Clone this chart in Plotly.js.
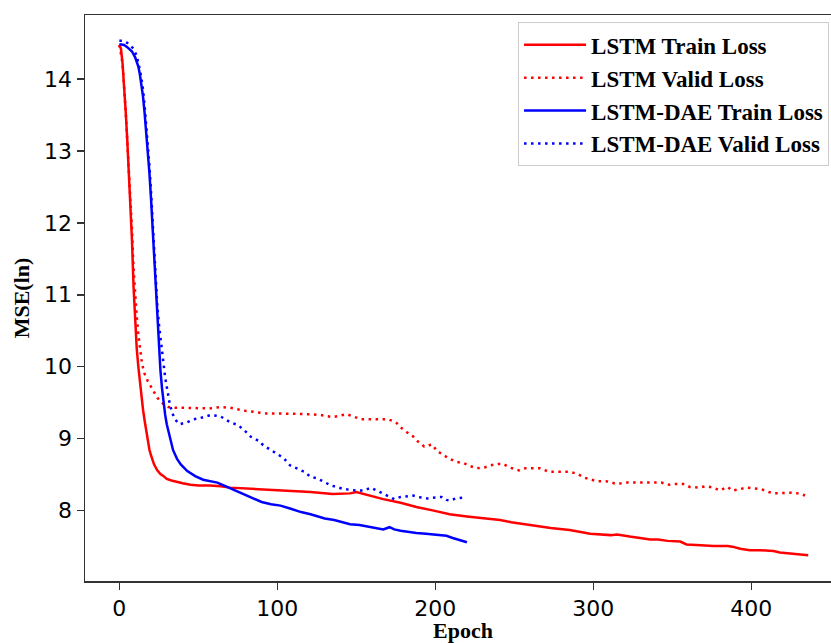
<!DOCTYPE html>
<html>
<head>
<meta charset="utf-8">
<script src="https://cdn.plot.ly/plotly-3.0.1.min.js"></script>
<style>
html,body{margin:0;padding:0;overflow:hidden;background:#fff;}
#chart{width:842px;height:643px;}
</style>
</head>
<body>
<div id="chart"></div>
<script>
// ---- Data ----
const seriesNames = ["LSTM Train Loss", "LSTM Valid Loss", "LSTM-DAE Train Loss", "LSTM-DAE Valid Loss"];

const lstmTrainEpoch = [0, 1, 2, 3, 4, 5, 6, 7, 8, 9, 10, 11, 12, 13, 14, 15, 16, 17, 18, 19, 20, 22, 24, 26, 28, 30, 33, 36, 40, 45, 50, 57, 64, 70, 80, 89, 100, 112, 121, 135, 146, 150, 157, 167, 178, 188, 199, 209, 220, 231, 241, 248, 260, 273, 285, 298, 311, 315, 323, 336, 341, 347, 355, 359, 368, 376, 385, 388, 393, 399, 406, 414, 418, 427, 436];
const lstmTrainLoss  = [14.47, 14.42, 14.22, 13.92, 13.55, 13.15, 12.72, 12.3, 11.75, 11.1, 10.55, 10.25, 10.0, 9.8, 9.55, 9.4, 9.25, 9.1, 8.95, 8.85, 8.77, 8.64, 8.56, 8.51, 8.48, 8.44, 8.42, 8.40, 8.38, 8.36, 8.35, 8.35, 8.34, 8.32, 8.31, 8.30, 8.29, 8.27, 8.26, 8.23, 8.24, 8.26, 8.22, 8.16, 8.11, 8.05, 8.00, 7.95, 7.92, 7.89, 7.87, 7.84, 7.80, 7.76, 7.73, 7.68, 7.66, 7.67, 7.64, 7.60, 7.60, 7.58, 7.57, 7.53, 7.52, 7.51, 7.51, 7.50, 7.47, 7.45, 7.45, 7.44, 7.42, 7.40, 7.38];

const lstmValidEpoch = [0, 2, 4, 6, 7, 8, 9, 10, 11, 12, 13, 14, 15, 16, 18, 20, 22, 24, 26, 28, 31, 34, 40, 49, 57, 64, 70, 79, 93, 102, 113, 121, 127, 135, 144, 148, 153, 161, 170, 175, 179, 182, 186, 189, 193, 196, 198, 201, 205, 209, 213, 218, 222, 226, 231, 235, 240, 243, 247, 253, 257, 266, 272, 280, 285, 290, 294, 302, 308, 315, 320, 330, 343, 348, 352, 357, 361, 367, 371, 376, 380, 385, 388, 393, 397, 406, 411, 415, 420, 425, 430, 434];
const lstmValidLoss  = [14.47, 14.22, 13.55, 12.75, 12.35, 11.9, 11.35, 10.95, 10.7, 10.45, 10.25, 10.1, 9.98, 9.9, 9.8, 9.72, 9.65, 9.57, 9.52, 9.48, 9.44, 9.43, 9.43, 9.42, 9.42, 9.44, 9.43, 9.39, 9.35, 9.35, 9.35, 9.34, 9.33, 9.30, 9.34, 9.31, 9.27, 9.27, 9.27, 9.23, 9.14, 9.09, 9.03, 8.96, 8.89, 8.91, 8.92, 8.83, 8.77, 8.72, 8.68, 8.66, 8.62, 8.59, 8.60, 8.63, 8.65, 8.65, 8.60, 8.56, 8.59, 8.59, 8.54, 8.54, 8.54, 8.51, 8.46, 8.41, 8.41, 8.37, 8.39, 8.39, 8.39, 8.36, 8.37, 8.37, 8.33, 8.32, 8.34, 8.32, 8.28, 8.33, 8.28, 8.30, 8.32, 8.30, 8.26, 8.24, 8.25, 8.25, 8.24, 8.21];

const daeTrainEpoch = [0, 3, 5, 8, 10, 12, 13, 14, 15, 16, 17, 18, 19, 20, 21, 22, 23, 24, 25, 26, 27, 28, 29, 30, 32, 34, 36.5, 39, 43, 48, 53, 58, 62, 66, 70, 75, 79, 85, 90, 96, 102, 108, 115, 121, 125, 130, 136, 141, 146, 152, 157, 162, 167, 171, 174, 178, 183, 188, 194, 199, 204, 207, 211, 214, 217, 220];
const daeTrainLoss  = [14.48, 14.47, 14.44, 14.38, 14.3, 14.17, 14.06, 13.92, 13.75, 13.52, 13.27, 13.02, 12.7, 12.35, 11.95, 11.5, 11.05, 10.6, 10.2, 9.95, 9.7, 9.5, 9.33, 9.2, 9.0, 8.84, 8.72, 8.64, 8.55, 8.48, 8.43, 8.41, 8.39, 8.35, 8.31, 8.26, 8.22, 8.16, 8.12, 8.09, 8.07, 8.03, 7.98, 7.95, 7.92, 7.89, 7.87, 7.84, 7.81, 7.80, 7.78, 7.76, 7.74, 7.77, 7.74, 7.72, 7.70, 7.69, 7.68, 7.67, 7.66, 7.65, 7.62, 7.60, 7.58, 7.56];

const daeValidEpoch = [0, 2, 5, 7, 9, 11, 12, 13, 14, 15, 16, 17, 18, 19, 20, 21, 22, 23, 24, 25, 26, 27, 28, 29, 30, 31, 32, 33, 34, 36, 38, 43, 47, 50, 58, 64, 66, 70, 75, 79, 83, 89, 91, 100, 104, 108, 113, 117, 121, 125, 134, 138, 142, 146, 150, 155, 159, 162, 165, 169, 174, 178, 182, 186, 189, 195, 198, 201, 204, 207, 209, 213, 218];
const daeValidLoss  = [14.53, 14.53, 14.50, 14.46, 14.42, 14.32, 14.23, 14.12, 14.0, 13.85, 13.62, 13.38, 13.12, 12.8, 12.45, 12.05, 11.6, 11.2, 10.85, 10.6, 10.4, 10.18, 10.0, 9.85, 9.72, 9.56, 9.47, 9.4, 9.33, 9.25, 9.2, 9.23, 9.27, 9.28, 9.33, 9.31, 9.28, 9.23, 9.19, 9.12, 9.03, 8.96, 8.91, 8.78, 8.73, 8.63, 8.58, 8.54, 8.47, 8.45, 8.35, 8.32, 8.30, 8.29, 8.28, 8.28, 8.32, 8.29, 8.26, 8.22, 8.16, 8.19, 8.20, 8.21, 8.19, 8.17, 8.18, 8.18, 8.19, 8.15, 8.14, 8.17, 8.18];

const xTickVals = [0, 100, 200, 300, 400];
const yTickVals = [8, 9, 10, 11, 12, 13, 14];

// ---- Chart ----
const dotDash = "2.5px,4.5px";
const traces = [
  {x: lstmTrainEpoch, y: lstmTrainLoss, name: seriesNames[0], mode: "lines", legendgroup: "a",
   line: {color: "#ff0000", width: 2.5}},
  {x: lstmValidEpoch, y: lstmValidLoss, name: seriesNames[1], mode: "lines", legendgroup: "b",
   line: {color: "#ff0000", width: 2.5, dash: dotDash}},
  {x: daeTrainEpoch, y: daeTrainLoss, name: seriesNames[2], mode: "lines", legendgroup: "c",
   line: {color: "#0000ff", width: 2.5}},
  {x: daeValidEpoch, y: daeValidLoss, name: seriesNames[3], mode: "lines", legendgroup: "d",
   line: {color: "#0000ff", width: 2.5, dash: dotDash}}
];

const tickFont = {family: "DejaVu Sans", size: 22, color: "#000"};
const titleFont = {family: "Liberation Serif", size: 22, color: "#000", weight: "bold"};

const layout = {
  width: 842, height: 643,
  margin: {l: 85, r: 1, t: 15, b: 62},
  paper_bgcolor: "#fff", plot_bgcolor: "#fff",
  showlegend: true,
  xaxis: {
    range: [-21.75, 456.75], tickvals: xTickVals, ticktext: xTickVals.map(String),
    showgrid: false, zeroline: false, showline: true, mirror: true,
    linecolor: "#333", linewidth: 1.5, ticks: "outside", ticklen: 7, tickwidth: 1.5, tickcolor: "#333",
    tickfont: tickFont, automargin: false,
    title: {text: "Epoch", font: titleFont, standoff: 8}
  },
  yaxis: {
    range: [7.0225, 14.8875], tickvals: yTickVals, ticktext: yTickVals.map(String),
    showgrid: false, zeroline: false, showline: true, mirror: true,
    linecolor: "#333", linewidth: 1.5, ticks: "outside", ticklen: 7, tickwidth: 1.5, tickcolor: "#333",
    tickfont: tickFont, automargin: false,
    title: {text: "MSE(ln)", font: titleFont, standoff: 8}
  },
  legend: {
    x: 0.5728, y: 0.987, xanchor: "left", yanchor: "top",
    bgcolor: "#fff", bordercolor: "#cccccc", borderwidth: 1,
    font: {family: "Liberation Serif", size: 23, color: "#000", weight: "bold"},
    tracegroupgap: 0, traceorder: "grouped", itemwidth: 62
  }
};

Plotly.newPlot("chart", traces, layout, {displayModeBar: false, staticPlot: true});
</script>
</body>
</html>
